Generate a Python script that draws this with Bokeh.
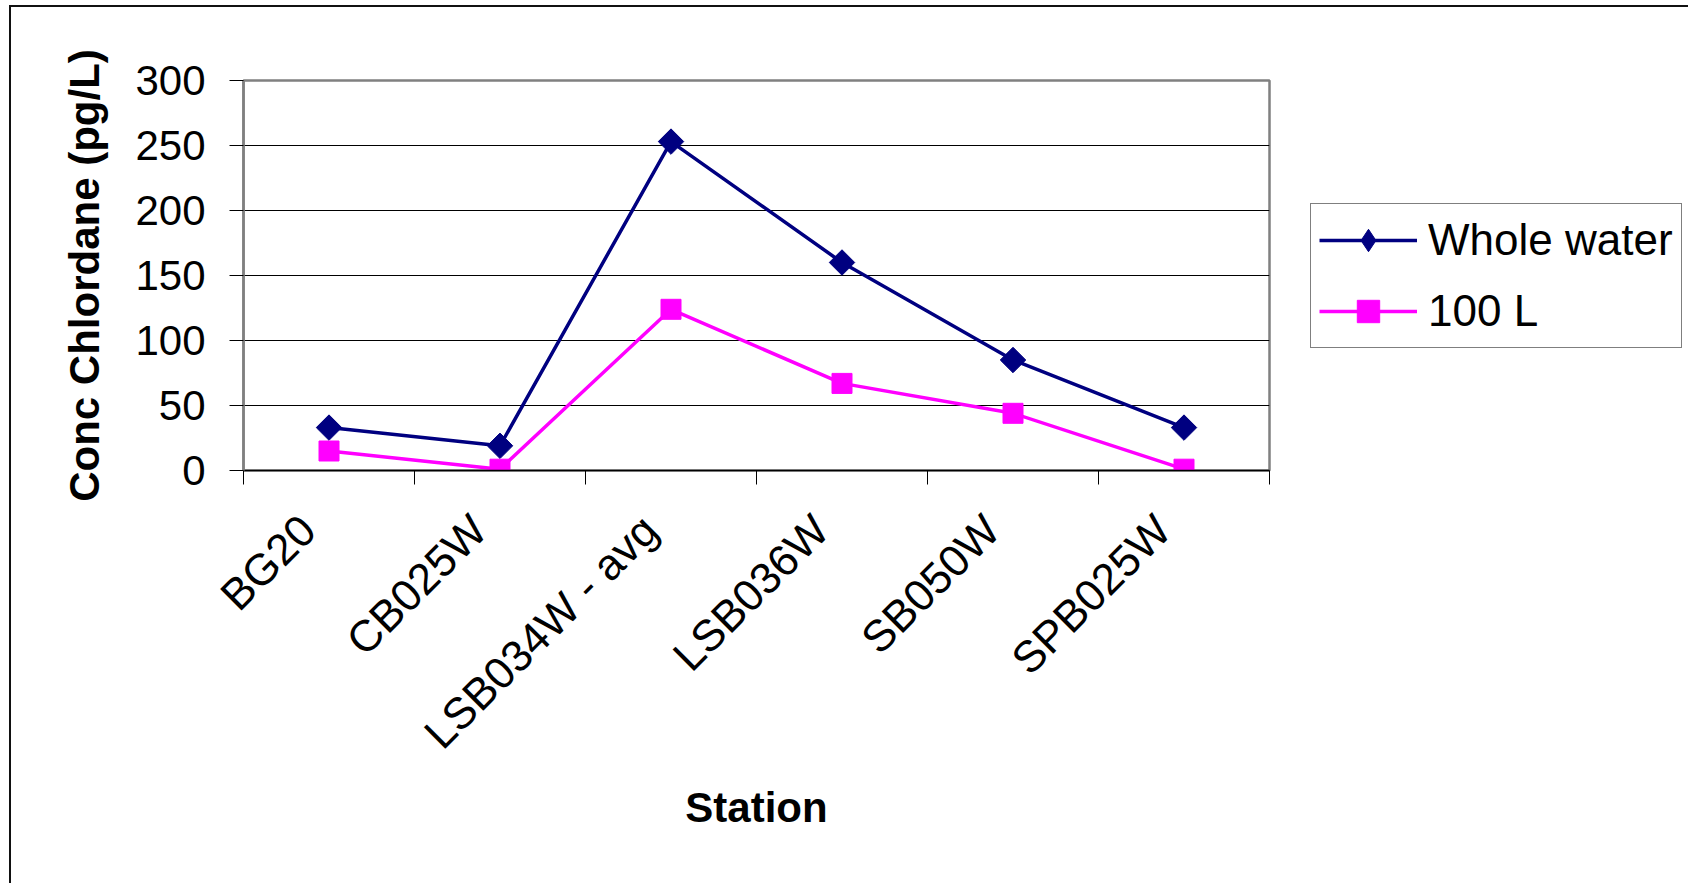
import math
from bokeh.plotting import figure
from bokeh.models import FixedTicker, Legend, LegendItem, Range1d
from bokeh.embed import file_html
from bokeh.resources import INLINE

stations = ["BG20", "CB025W", "LSB034W - avg", "LSB036W", "SB050W", "SPB025W"]
whole_water = [33, 19, 253, 160, 85, 33]
hundred_l = [15, 1, 124, 67, 44, 1]
y_ticks = [0, 50, 100, 150, 200, 250, 300]

FONT = "Liberation Sans"
LABEL_SHIFT = 0.125  # style: rotated labels hang down-left of the category centre
x_pos = [i + 0.5 for i in range(len(stations))]
boundaries = list(range(len(stations) + 1))
label_pos = [x - LABEL_SHIFT for x in x_pos]

p = figure(frame_width=1026, frame_height=390, output_backend="svg", toolbar_location=None,
           x_range=Range1d(0, len(stations)), y_range=Range1d(0, 300),
           min_border_left=232, min_border_right=0, min_border_top=73,
           min_border_bottom=414)
p.styles = {"border-left": "2px solid #111", "border-top": "2px solid #111",
            "margin-left": "9px", "margin-top": "5px"}

p.outline_line_color = "#808080"
p.outline_line_width = 2.5

# y axis
p.yaxis.ticker = FixedTicker(ticks=y_ticks)
p.yaxis.major_tick_out = 14
p.yaxis.major_tick_in = 0
p.yaxis.major_tick_line_color = "black"
p.yaxis.axis_line_color = "#808080"
p.yaxis.axis_line_width = 2.5
p.yaxis.major_label_text_font = FONT
p.yaxis.major_label_text_font_size = "42px"
p.yaxis.major_label_text_color = "black"
p.yaxis.major_label_standoff = 24
p.yaxis.axis_label = "Conc Chlordane (pg/L)"
p.yaxis.axis_label_text_font = FONT
p.yaxis.axis_label_text_font_size = "42px"
p.yaxis.axis_label_text_font_style = "bold"
p.yaxis.axis_label_text_color = "black"
p.yaxis.axis_label_standoff = 24

# x axis
p.xaxis.ticker = FixedTicker(ticks=label_pos, minor_ticks=boundaries)
p.xaxis.major_label_overrides = {x: s for x, s in zip(label_pos, stations)}
p.xaxis.major_tick_line_color = None
p.xaxis.major_tick_out = 14
p.xaxis.major_tick_in = 0
p.xaxis.minor_tick_out = 14
p.xaxis.minor_tick_in = 0
p.xaxis.minor_tick_line_color = "black"
p.xaxis.axis_line_color = "black"
p.xaxis.axis_line_width = 1.5
p.xaxis.major_label_orientation = math.pi / 4
p.xaxis.major_label_text_font = FONT
p.xaxis.major_label_text_font_size = "44px"
p.xaxis.major_label_text_color = "black"
p.xaxis.major_label_standoff = 38
p.xaxis.axis_label = "Station"
p.xaxis.axis_label_text_font = FONT
p.xaxis.axis_label_text_font_size = "42px"
p.xaxis.axis_label_text_font_style = "bold"
p.xaxis.axis_label_text_color = "black"
p.xaxis.axis_label_standoff = 6

p.xgrid.grid_line_color = None
p.ygrid.ticker = FixedTicker(ticks=y_ticks)
p.ygrid.grid_line_color = "black"
p.ygrid.grid_line_width = 1

navy = "#000080"
mag = "#FF00FF"
l1 = p.line(x_pos, whole_water, line_color=navy, line_width=3.5)
s1 = p.scatter(x_pos, whole_water, marker="square", size=18, angle=math.pi / 4,
               fill_color=navy, line_color=navy)
l2 = p.line(x_pos, hundred_l, line_color=mag, line_width=3.5)
s2 = p.scatter(x_pos, hundred_l, marker="square", size=20,
               fill_color=mag, line_color=mag)
# legend-only diamond key (its single point is NaN, so nothing is drawn in the plot)
s1_key = p.scatter(x=[float("nan")], y=[float("nan")], marker="diamond", size=18,
                   fill_color=navy, line_color=navy)

legend = Legend(items=[LegendItem(label="Whole water", renderers=[l1, s1_key]),
                       LegendItem(label="100 L", renderers=[l2, s2])],
                location=(41, 122))
legend.border_line_color = "black"
legend.border_line_width = 1.5
legend.background_fill_color = "white"
legend.background_fill_alpha = 1
legend.label_text_font = FONT
legend.label_text_font_size = "44px"
legend.label_text_color = "black"
legend.glyph_width = 98
legend.glyph_height = 56
legend.label_height = 40
legend.spacing = 15
legend.padding = 8
legend.label_standoff = 11
legend.margin = 0
p.add_layout(legend, "right")

open("out.html", "w").write(file_html(p, INLINE))
